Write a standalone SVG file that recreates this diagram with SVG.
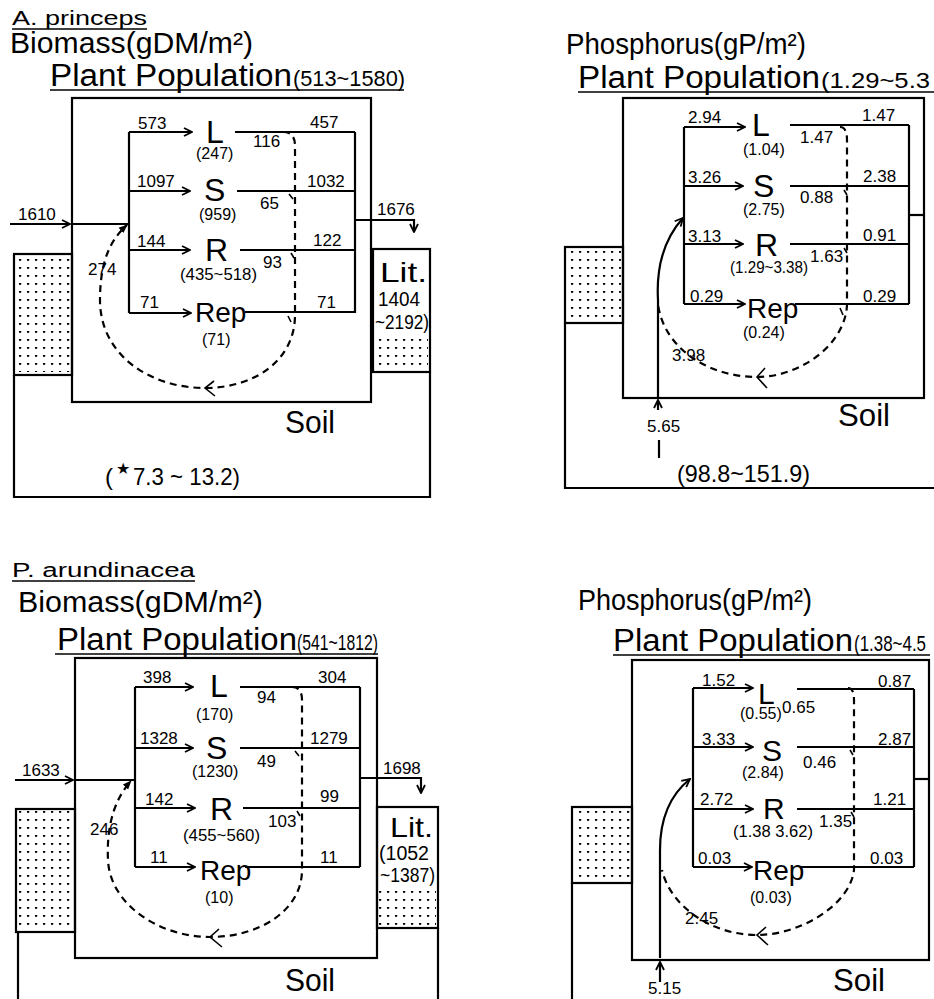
<svg xmlns="http://www.w3.org/2000/svg" width="934" height="999" viewBox="0 0 934 999">
<style>
.t{font-family:"Liberation Sans",Arial,sans-serif;fill:#000}
.n{font-size:17px}
.p{font-size:16px}
.big{font-size:32px}
.rep{font-size:28px}
.lit{font-size:20px}
.ln{stroke:#000;stroke-width:2.2;fill:none}
.th{stroke:#000;stroke-width:1.6;fill:none}
.ds{stroke:#000;stroke-width:2.2;fill:none;stroke-dasharray:7 5}
.dot{fill:url(#dots);stroke:none}
</style>
<defs>
<pattern id="dots" width="8" height="8" patternUnits="userSpaceOnUse">
<rect x="3" y="3" width="2.2" height="1.8" fill="#000"/>
</pattern>
<marker id="arr" viewBox="0 0 10 10" refX="9" refY="5" markerWidth="10" markerHeight="10" markerUnits="userSpaceOnUse" orient="auto">
<path d="M1,1 L9,5 L1,9" fill="none" stroke="#000" stroke-width="1.8"/>
</marker>
<marker id="arrf" viewBox="0 0 10 10" refX="9" refY="5" markerWidth="9" markerHeight="9" markerUnits="userSpaceOnUse" orient="auto">
<path d="M0,1 L10,5 L0,9 Z" fill="#000"/>
</marker>
</defs>

<!-- ================= TOP LEFT: A. princeps Biomass ================= -->
<g id="tl-titles">
<text class="t" x="12" y="25" font-size="20" textLength="135" lengthAdjust="spacingAndGlyphs">A. princeps</text>
<line class="th" x1="12" y1="29" x2="147" y2="29"/>
<text class="t" x="10" y="53" font-size="29" textLength="243" lengthAdjust="spacingAndGlyphs">Biomass(gDM/m²)</text>
</g>
<g id="tl-plant">
<text class="t" x="50" y="86" font-size="31" textLength="242" lengthAdjust="spacingAndGlyphs">Plant Population</text>
<text class="t" x="293" y="86" font-size="22" textLength="112" lengthAdjust="spacingAndGlyphs">(513~1580)</text>
<line class="th" x1="50" y1="90" x2="404" y2="90"/>
<rect class="ln" x="72" y="98" width="299" height="304"/>
</g>
<g id="tl-L">
<text class="t big" x="206" y="143">L</text>
<text class="t p" x="196" y="159">(247)</text>
</g>
<g id="tl-S">
<text class="t big" x="204" y="201">S</text>
<text class="t p" x="199" y="220">(959)</text>
</g>
<g id="tl-R">
<text class="t big" x="205" y="261">R</text>
<text class="t p" x="180" y="280" textLength="77" lengthAdjust="spacingAndGlyphs">(435~518)</text>
</g>
<g id="tl-Rep">
<text class="t rep" x="195" y="322">Rep</text>
<text class="t p" x="202" y="345">(71)</text>
</g>
<g id="tl-Lit">
<rect class="ln" x="373" y="249" width="57" height="123"/>
<rect class="dot" x="375" y="335" width="53" height="35"/>
<text class="t" x="380" y="282" font-size="28" textLength="47" lengthAdjust="spacingAndGlyphs">Lit.</text>
<text class="t lit" x="378" y="306" textLength="42" lengthAdjust="spacingAndGlyphs">1404</text>
<text class="t lit" x="375" y="329" textLength="54" lengthAdjust="spacingAndGlyphs">~2192)</text>
</g>
<g id="tl-Soil">
<rect class="ln" x="14" y="254" width="58" height="121"/>
<rect class="dot" x="16" y="256" width="54" height="116"/>
<path class="ln" d="M14 375 V497 H430 V372"/>
<text class="t" x="285" y="433" font-size="32" textLength="50" lengthAdjust="spacingAndGlyphs">Soil</text>
<text class="t" x="105" y="485" font-size="24">(</text>
<text x="116" y="474" font-family="DejaVu Sans,sans-serif" font-size="16">★</text>
<text class="t" x="133" y="485" font-size="24" textLength="107" lengthAdjust="spacingAndGlyphs">7.3 ~ 13.2)</text>
</g>
<g id="tl-connectors">
<path class="ln" d="M129 132 V313"/>
<path class="ln" d="M355 132 V313"/>
<path class="ln" d="M129 132 H192" marker-end="url(#arr)"/>
<path class="ln" d="M129 191 H190" marker-end="url(#arr)"/>
<path class="ln" d="M129 250 H190" marker-end="url(#arr)"/>
<path class="ln" d="M129 313 H191" marker-end="url(#arr)"/>
<path class="ln" d="M235 132 H355"/>
<path class="ln" d="M237 191 H355"/>
<path class="ln" d="M240 250 H355"/>
<path class="ln" d="M245 312 H355"/>
<path class="ln" d="M10 224 H70" marker-end="url(#arr)"/>
<path class="ln" d="M72 224 H129"/>
<path class="ln" d="M355 220 H414 V232" marker-end="url(#arr)"/>
<path class="ds" d="M283 132 Q295 132 295 146 V315 C295 360 255 388 205 388 C150 388 100 355 100 300 C100 262 110 240 127 225" marker-end="url(#arrf)"/>
<path class="th" d="M214 381 L205 388 L215 396"/>
<path class="th" d="M289 194 L293 199 M291 253 L294 258 M288 316 L291 322"/>
<text class="t n" x="138" y="129">573</text>
<text class="t n" x="253" y="147">116</text>
<text class="t n" x="310" y="128">457</text>
<text class="t n" x="137" y="187">1097</text>
<text class="t n" x="260" y="209">65</text>
<text class="t n" x="307" y="187">1032</text>
<text class="t n" x="137" y="247">144</text>
<text class="t n" x="263" y="268">93</text>
<text class="t n" x="313" y="246">122</text>
<text class="t n" x="140" y="308">71</text>
<text class="t n" x="317" y="308">71</text>
<text class="t n" x="18" y="220">1610</text>
<text class="t n" x="88" y="275">274</text>
<text class="t n" x="377" y="215">1676</text>
</g>

<!-- ================= TOP RIGHT: Phosphorus ================= -->
<g id="tr-titles">
<text class="t" x="566" y="54" font-size="29" textLength="240" lengthAdjust="spacingAndGlyphs">Phosphorus(gP/m²)</text>
</g>
<g id="tr-plant">
<text class="t" x="578" y="88" font-size="31" textLength="242" lengthAdjust="spacingAndGlyphs">Plant Population</text>
<text class="t" x="821" y="88" font-size="22" textLength="109" lengthAdjust="spacingAndGlyphs">(1.29~5.3</text>
<line class="th" x1="578" y1="92" x2="934" y2="92"/>
<rect class="ln" x="623" y="98" width="301" height="300"/>
</g>
<g id="tr-L">
<text class="t big" x="752" y="136">L</text>
<text class="t p" x="743" y="155">(1.04)</text>
</g>
<g id="tr-S">
<text class="t big" x="753" y="197">S</text>
<text class="t p" x="743" y="215">(2.75)</text>
</g>
<g id="tr-R">
<text class="t big" x="755" y="256">R</text>
<text class="t p" x="730" y="273" textLength="78" lengthAdjust="spacingAndGlyphs">(1.29~3.38)</text>
</g>
<g id="tr-Rep">
<text class="t rep" x="747" y="318">Rep</text>
<text class="t p" x="743" y="338">(0.24)</text>
</g>
<g id="tr-Soil">
<rect class="ln" x="565" y="247" width="58" height="76"/>
<rect class="dot" x="567" y="249" width="54" height="72"/>
<path class="ln" d="M565 323 V488 H934"/>
<text class="t" x="838" y="426" font-size="32" textLength="52" lengthAdjust="spacingAndGlyphs">Soil</text>
<text class="t" x="677" y="482" font-size="24" textLength="133" lengthAdjust="spacingAndGlyphs">(98.8~151.9)</text>
</g>
<g id="tr-connectors">
<path class="ln" d="M684 127 V304"/>
<path class="ln" d="M909 125 V304"/>
<path class="ln" d="M684 127 H745" marker-end="url(#arr)"/>
<path class="ln" d="M684 186 H743" marker-end="url(#arr)"/>
<path class="ln" d="M684 244 H743" marker-end="url(#arr)"/>
<path class="ln" d="M684 304 H745" marker-end="url(#arr)"/>
<path class="ln" d="M790 125 H909"/>
<path class="ln" d="M790 186 H909"/>
<path class="ln" d="M790 244 H909"/>
<path class="ln" d="M795 304 H909"/>
<path class="ln" d="M909 215 H924"/>
<path class="ln" d="M658 398 V300 C656 265 665 238 683 218" marker-end="url(#arr)"/>
<path class="ln" d="M658 410 V400" marker-end="url(#arr)"/>
<path class="ln" d="M659 440 V458"/>
<path class="ds" d="M840 127 Q847 127 847 140 V305 C845 345 800 377 757 377 C710 377 665 350 658 305"/>
<path class="th" d="M765 368 L757 377 L767 388"/>
<path class="th" d="M844 190 L847 195 M844 248 L847 253 M840 308 L843 315"/>
<text class="t n" x="688" y="123">2.94</text>
<text class="t n" x="800" y="143">1.47</text>
<text class="t n" x="862" y="121">1.47</text>
<text class="t n" x="688" y="183">3.26</text>
<text class="t n" x="800" y="203">0.88</text>
<text class="t n" x="863" y="182">2.38</text>
<text class="t n" x="688" y="242">3.13</text>
<text class="t n" x="810" y="262">1.63</text>
<text class="t n" x="863" y="241">0.91</text>
<text class="t n" x="690" y="302">0.29</text>
<text class="t n" x="863" y="302">0.29</text>
<text class="t n" x="672" y="361">3.98</text>
<text class="t n" x="647" y="432">5.65</text>
</g>

<!-- ================= BOTTOM LEFT: P. arundinacea Biomass ================= -->
<g id="bl-titles">
<text class="t" x="12" y="577" font-size="20" textLength="183" lengthAdjust="spacingAndGlyphs">P. arundinacea</text>
<line class="th" x1="12" y1="581" x2="195" y2="581"/>
<text class="t" x="18" y="612" font-size="29" textLength="245" lengthAdjust="spacingAndGlyphs">Biomass(gDM/m²)</text>
</g>
<g id="bl-plant">
<text class="t" x="57" y="650" font-size="31" textLength="240" lengthAdjust="spacingAndGlyphs">Plant Population</text>
<text class="t" x="297" y="650" font-size="22" textLength="81" lengthAdjust="spacingAndGlyphs">(541~1812)</text>
<line class="th" x1="55" y1="654" x2="378" y2="654"/>
<rect class="ln" x="75" y="658" width="302" height="300"/>
</g>
<g id="bl-L">
<text class="t big" x="210" y="697">L</text>
<text class="t p" x="196" y="720">(170)</text>
</g>
<g id="bl-S">
<text class="t big" x="206" y="759">S</text>
<text class="t p" x="192" y="777">(1230)</text>
</g>
<g id="bl-R">
<text class="t big" x="210" y="820">R</text>
<text class="t p" x="183" y="841" textLength="77" lengthAdjust="spacingAndGlyphs">(455~560)</text>
</g>
<g id="bl-Rep">
<text class="t rep" x="200" y="880">Rep</text>
<text class="t p" x="205" y="903">(10)</text>
</g>
<g id="bl-Lit">
<rect class="ln" x="377" y="807" width="61" height="121"/>
<rect class="dot" x="379" y="886" width="57" height="40"/>
<text class="t" x="390" y="837" font-size="28" textLength="43" lengthAdjust="spacingAndGlyphs">Lit.</text>
<text class="t lit" x="379" y="860" textLength="50" lengthAdjust="spacingAndGlyphs">(1052</text>
<text class="t lit" x="380" y="882" textLength="55" lengthAdjust="spacingAndGlyphs">~1387)</text>
</g>
<g id="bl-Soil">
<rect class="ln" x="16" y="809" width="59" height="123"/>
<rect class="dot" x="18" y="811" width="55" height="119"/>
<path class="ln" d="M18 932 V999"/>
<path class="ln" d="M438 928 V999"/>
<text class="t" x="285" y="991" font-size="32" textLength="50" lengthAdjust="spacingAndGlyphs">Soil</text>
</g>
<g id="bl-connectors">
<path class="ln" d="M135 687 V867"/>
<path class="ln" d="M360 687 V867"/>
<path class="ln" d="M135 687 H193" marker-end="url(#arr)"/>
<path class="ln" d="M135 748 H193" marker-end="url(#arr)"/>
<path class="ln" d="M135 808 H195" marker-end="url(#arr)"/>
<path class="ln" d="M135 867 H195" marker-end="url(#arr)"/>
<path class="ln" d="M240 687 H360"/>
<path class="ln" d="M240 748 H360"/>
<path class="ln" d="M243 808 H360"/>
<path class="ln" d="M245 867 H360"/>
<path class="ln" d="M15 780 H73" marker-end="url(#arr)"/>
<path class="ln" d="M75 780 H135"/>
<path class="ln" d="M360 778 H421 V793" marker-end="url(#arr)"/>
<path class="ds" d="M292 687 Q302 687 302 700 V870 C302 910 260 937 210 937 C160 937 110 905 108 860 C106 820 118 795 131 781" marker-end="url(#arrf)"/>
<path class="th" d="M219 929 L210 937 L222 947"/>
<path class="th" d="M295 751 L299 756 M297 811 L300 816"/>
<text class="t n" x="143" y="683">398</text>
<text class="t n" x="257" y="703">94</text>
<text class="t n" x="318" y="683">304</text>
<text class="t n" x="140" y="744">1328</text>
<text class="t n" x="257" y="767">49</text>
<text class="t n" x="310" y="744">1279</text>
<text class="t n" x="145" y="805">142</text>
<text class="t n" x="268" y="827">103</text>
<text class="t n" x="320" y="802">99</text>
<text class="t n" x="150" y="863">11</text>
<text class="t n" x="320" y="863">11</text>
<text class="t n" x="22" y="776">1633</text>
<text class="t n" x="90" y="835">246</text>
<text class="t n" x="383" y="774">1698</text>
</g>

<!-- ================= BOTTOM RIGHT: Phosphorus ================= -->
<g id="br-titles">
<text class="t" x="578" y="610" font-size="29" textLength="234" lengthAdjust="spacingAndGlyphs">Phosphorus(gP/m²)</text>
</g>
<g id="br-plant">
<text class="t" x="613" y="651" font-size="31" textLength="240" lengthAdjust="spacingAndGlyphs">Plant Population</text>
<text class="t" x="854" y="651" font-size="22" textLength="72" lengthAdjust="spacingAndGlyphs">(1.38~4.5</text>
<line class="th" x1="613" y1="655" x2="930" y2="655"/>
<rect class="ln" x="632" y="660" width="297" height="300"/>
</g>
<g id="br-L">
<text class="t" x="758" y="704" font-size="30">L</text>
<text class="t p" x="740" y="719">(0.55)</text>
</g>
<g id="br-S">
<text class="t" x="762" y="761" font-size="30">S</text>
<text class="t p" x="742" y="778">(2.84)</text>
</g>
<g id="br-R">
<text class="t" x="763" y="819" font-size="30">R</text>
<text class="t p" x="733" y="837" textLength="80" lengthAdjust="spacingAndGlyphs">(1.38 3.62)</text>
</g>
<g id="br-Rep">
<text class="t rep" x="753" y="880">Rep</text>
<text class="t p" x="750" y="903">(0.03)</text>
</g>
<g id="br-Soil">
<rect class="ln" x="572" y="807" width="60" height="76"/>
<rect class="dot" x="574" y="809" width="56" height="72"/>
<path class="ln" d="M572 883 V999"/>
<text class="t" x="833" y="991" font-size="32" textLength="52" lengthAdjust="spacingAndGlyphs">Soil</text>
</g>
<g id="br-connectors">
<path class="ln" d="M693 688 V867"/>
<path class="ln" d="M914 689 V867"/>
<path class="ln" d="M693 688 H753" marker-end="url(#arr)"/>
<path class="ln" d="M693 747 H753" marker-end="url(#arr)"/>
<path class="ln" d="M693 809 H753" marker-end="url(#arr)"/>
<path class="ln" d="M693 867 H752" marker-end="url(#arr)"/>
<path class="ln" d="M797 689 H914"/>
<path class="ln" d="M797 747 H914"/>
<path class="ln" d="M797 809 H914"/>
<path class="ln" d="M800 867 H914"/>
<path class="ln" d="M914 779 H929"/>
<path class="ln" d="M660 958 V850 C660 820 670 795 690 779" marker-end="url(#arr)"/>
<path class="ln" d="M660 982 V962" marker-end="url(#arr)"/>
<path class="ds" d="M848 688 Q854 688 854 700 V870 C850 905 800 935 757 935 C710 935 670 905 662 870"/>
<path class="th" d="M766 927 L757 935 L768 945"/>
<path class="th" d="M850 750 L853 755 M851 812 L854 817"/>
<text class="t n" x="702" y="686">1.52</text>
<text class="t n" x="782" y="713">0.65</text>
<text class="t n" x="878" y="687">0.87</text>
<text class="t n" x="702" y="745">3.33</text>
<text class="t n" x="803" y="768">0.46</text>
<text class="t n" x="878" y="745">2.87</text>
<text class="t n" x="700" y="805">2.72</text>
<text class="t n" x="819" y="827">1.35</text>
<text class="t n" x="873" y="805">1.21</text>
<text class="t n" x="698" y="864">0.03</text>
<text class="t n" x="870" y="864">0.03</text>
<text class="t n" x="685" y="924">2.45</text>
<text class="t n" x="648" y="994">5.15</text>
</g>
</svg>
